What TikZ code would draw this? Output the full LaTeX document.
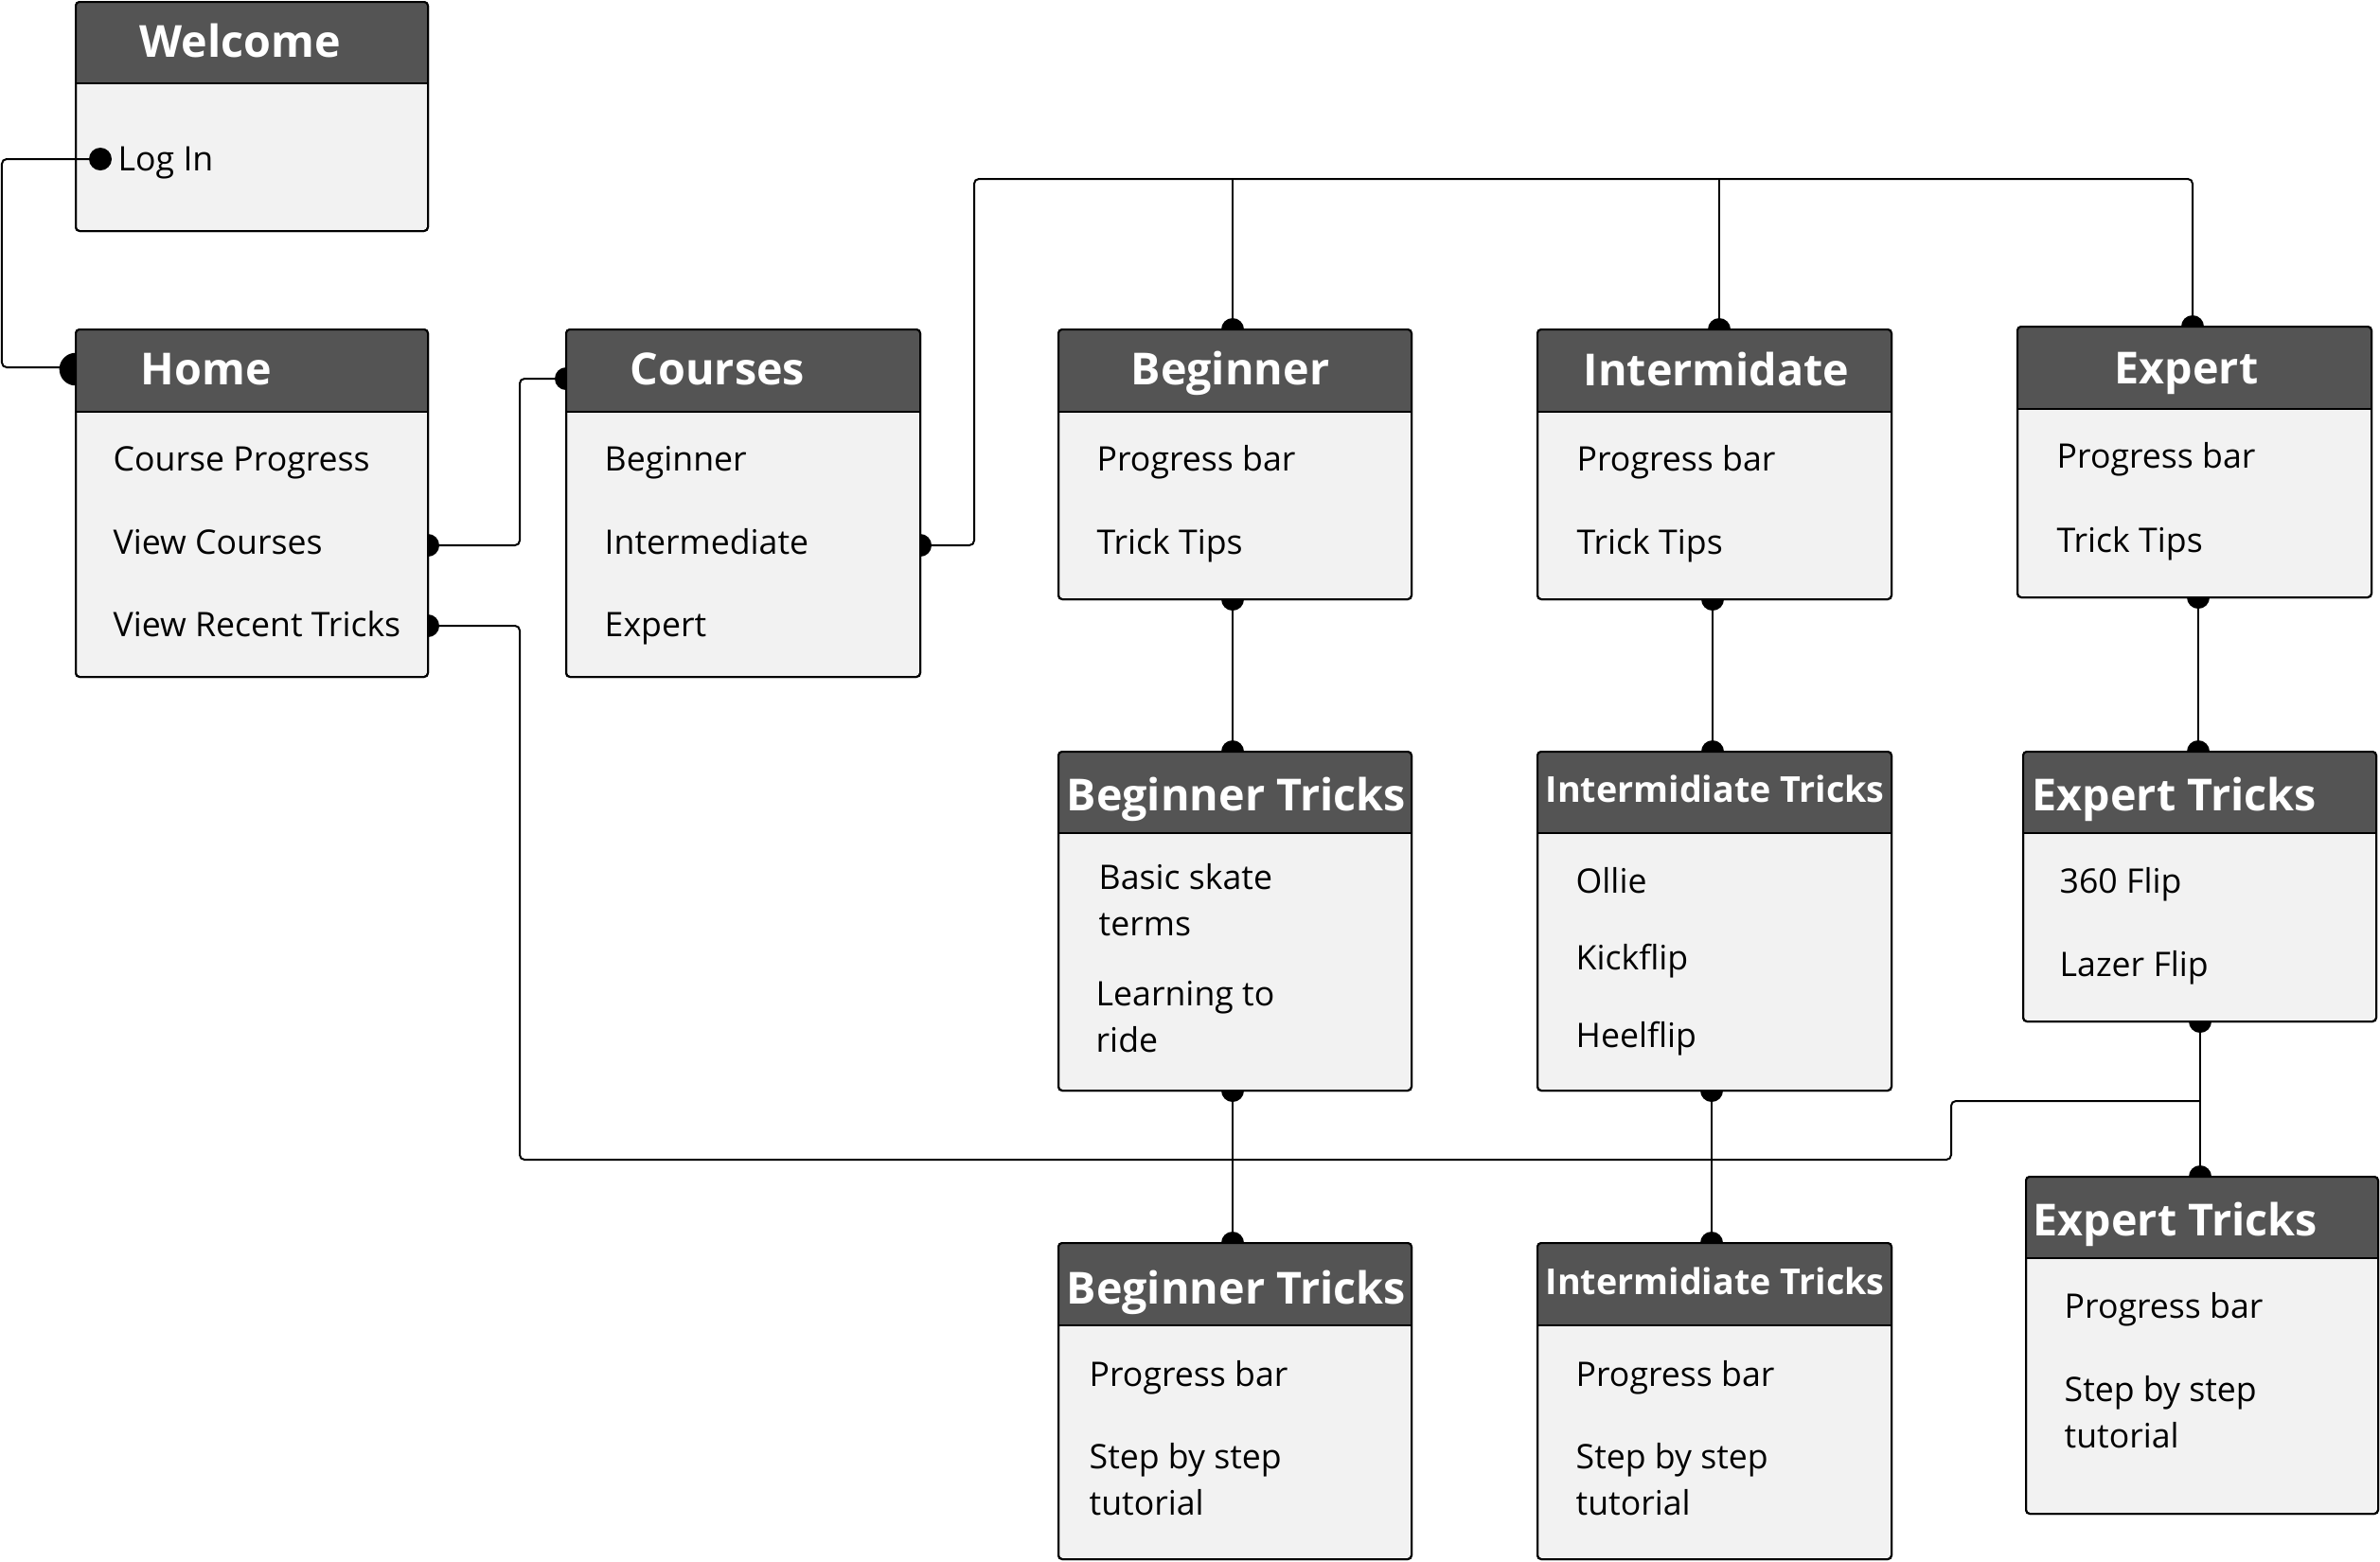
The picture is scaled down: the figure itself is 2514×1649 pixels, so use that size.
\documentclass[tikz,border=0pt]{standalone}
\usepackage{fontspec}
\setmainfont{Open Sans}
\definecolor{hdr}{HTML}{545454}
\definecolor{bodyc}{HTML}{F2F2F2}
\newcommand\mkbox[6]{%
  \node[bodybox, anchor=north west, minimum width={(#4-#2)*0.3pt}, minimum height={(#5-#3)*0.3pt}] (#1) at (#2,#3) {};
  \begin{scope}
    \clip[rounded corners=1.2pt] (#1.north west) rectangle (#1.south east);
    \fill[hdr] (#2,#3) rectangle (#4,#6);
  \end{scope}
  \draw[line width=0.6pt] (#2,#6) -- (#4,#6);
  \draw[line width=0.6pt, rounded corners=1.2pt] (#1.north west) rectangle (#1.south east);
}
\begin{document}
\begin{tikzpicture}[x=0.3pt,y=-0.3pt,
  bodybox/.style={draw=black, fill=bodyc, line width=0.6pt, rounded corners=1.2pt, inner sep=0pt, outer sep=0pt},
  ttl/.style={anchor=base west, inner sep=0pt, text=white, font=\fontsize{14}{17}\selectfont\bfseries},
  ttls/.style={anchor=base west, inner sep=0pt, text=white, font=\fontsize{11.3}{14}\selectfont\bfseries},
  itm/.style={anchor=base west, inner sep=0pt, font=\fontsize{10.7}{14.7}\selectfont, align=left},
  conn/.style={line width=0.6pt, rounded corners=1.5pt},
  thin/.style={line width=0.45pt},
  pin/.style={fill=black},
]
\useasboundingbox (0,0) rectangle (2514,1649);

% ---------- invisible placeholders to get box anchors first ----------
\begin{scope}[opacity=0]
\node[bodybox, anchor=north west, minimum width={372*0.3pt}, minimum height={367*0.3pt}] (home) at (80,348) {};
\node[bodybox, anchor=north west, minimum width={374*0.3pt}, minimum height={367*0.3pt}] (courses) at (598,348) {};
\node[bodybox, anchor=north west, minimum width={373*0.3pt}, minimum height={285*0.3pt}] (beginner) at (1118,348) {};
\node[bodybox, anchor=north west, minimum width={374*0.3pt}, minimum height={285*0.3pt}] (intermidate) at (1624,348) {};
\node[bodybox, anchor=north west, minimum width={374*0.3pt}, minimum height={286*0.3pt}] (expert) at (2131,345) {};
\node[bodybox, anchor=north west, minimum width={373*0.3pt}, minimum height={358*0.3pt}] (btricks) at (1118,794) {};
\node[bodybox, anchor=north west, minimum width={374*0.3pt}, minimum height={358*0.3pt}] (itricks) at (1624,794) {};
\node[bodybox, anchor=north west, minimum width={373*0.3pt}, minimum height={285*0.3pt}] (etricks) at (2137,794) {};
\node[bodybox, anchor=north west, minimum width={373*0.3pt}, minimum height={334*0.3pt}] (btut) at (1118,1313) {};
\node[bodybox, anchor=north west, minimum width={374*0.3pt}, minimum height={334*0.3pt}] (itut) at (1624,1313) {};
\node[bodybox, anchor=north west, minimum width={372*0.3pt}, minimum height={356*0.3pt}] (etut) at (2140,1243) {};
\end{scope}

% ---------- connectors and pins (drawn below the boxes) ----------
\coordinate (jn) at (2324,1163);
\coordinate (topL) at (1029,189);
\coordinate (colB) at (1302,189);
\coordinate (colI) at (1816,189);
\coordinate (colE) at (2316,189);
\coordinate (pinLogIn) at (106,168);

% Home -> Courses
\draw[conn] (home.east |- 0,576) -- (549,576) -- (549,400) -- (courses.west |- 0,400);
\fill[pin] (home.east |- 0,576) circle[radius=3.6pt];
\fill[pin] (courses.west |- 0,400) circle[radius=3.6pt];
% Home (View Recent Tricks) -> Expert Tricks line
\draw[conn] (home.east |- 0,661) -- (549,661) -- (549,1225) -- (2061,1225) -- (2061,1163) -- (jn);
\fill[pin] (home.east |- 0,661) circle[radius=3.6pt];
% Courses -> levels
\draw[conn] (courses.east |- 0,576) -- (1029,576) -- (topL) -- (colE) -- (expert.north -| colE);
\fill[pin] (courses.east |- 0,576) circle[radius=3.6pt];
\fill[pin] (expert.north -| colE) circle[radius=3.6pt];
\draw[thin] (colB) -- (beginner.north -| colB);
\fill[pin] (beginner.north -| colB) circle[radius=3.6pt];
\draw[thin] (colI) -- (intermidate.north -| colI);
\fill[pin] (intermidate.north -| colI) circle[radius=3.6pt];
% levels -> tricks
\draw[thin] (beginner.south -| 1302,0) -- (btricks.north -| 1302,0);
\fill[pin] (beginner.south -| 1302,0) circle[radius=3.6pt];
\fill[pin] (btricks.north -| 1302,0) circle[radius=3.6pt];
\draw[thin] (intermidate.south -| 1809,0) -- (itricks.north -| 1809,0);
\fill[pin] (intermidate.south -| 1809,0) circle[radius=3.6pt];
\fill[pin] (itricks.north -| 1809,0) circle[radius=3.6pt];
\draw[thin] (expert.south -| 2322,0) -- (etricks.north -| 2322,0);
\fill[pin] (expert.south -| 2322,0) circle[radius=3.6pt];
\fill[pin] (etricks.north -| 2322,0) circle[radius=3.6pt];
% tricks -> tutorials
\draw[thin] (btricks.south -| 1302,0) -- (btut.north -| 1302,0);
\fill[pin] (btricks.south -| 1302,0) circle[radius=3.6pt];
\fill[pin] (btut.north -| 1302,0) circle[radius=3.6pt];
\draw[thin] (itricks.south -| 1808,0) -- (itut.north -| 1808,0);
\fill[pin] (itricks.south -| 1808,0) circle[radius=3.6pt];
\fill[pin] (itut.north -| 1808,0) circle[radius=3.6pt];
\draw[thin] (etricks.south -| 2324,0) -- (etut.north -| 2324,0);
\fill[pin] (etricks.south -| 2324,0) circle[radius=3.6pt];
\fill[pin] (etut.north -| 2324,0) circle[radius=3.6pt];
% Home left pin (Log In connector end)
\fill[pin] (home.west |- 0,390) circle[radius=5.2pt];

% ---------- boxes ----------
\mkbox{welcome}{80}{2}{452}{244}{88}
\mkbox{home}{80}{348}{452}{715}{435}
\mkbox{courses}{598}{348}{972}{715}{435}
\mkbox{beginner}{1118}{348}{1491}{633}{435}
\mkbox{intermidate}{1624}{348}{1998}{633}{435}
\mkbox{expert}{2131}{345}{2505}{631}{432}
\mkbox{btricks}{1118}{794}{1491}{1152}{880}
\mkbox{itricks}{1624}{794}{1998}{1152}{880}
\mkbox{etricks}{2137}{794}{2510}{1079}{880}
\mkbox{btut}{1118}{1313}{1491}{1647}{1400}
\mkbox{itut}{1624}{1313}{1998}{1647}{1400}
\mkbox{etut}{2140}{1243}{2512}{1599}{1329}

% ---------- titles ----------
\node[ttl] (t1) at (147,60) {Welcome};
\node[ttl] (t2) at (148,406) {Home};
\node[ttl] (t3) at (665,406) {Courses};
\node[ttl] (t4) at (1194,406) {Beginner};
\node[ttl] (t5) at (1672,407) {Intermidate};
\node[ttl] (t6) at (2233,405) {Expert};
\node[ttl] (t7) at (1126,856) {Beginner Tricks};
\node[ttls] (t8) at (1632,847) {Intermidiate Tricks};
\node[ttl] (t9) at (2146,856) {Expert Tricks};
\node[ttl] (t10) at (1126,1377) {Beginner Tricks};
\node[ttls] (t11) at (1632,1367) {Intermidiate Tricks};
\node[ttl] (t12) at (2147,1305) {Expert Tricks};

% ---------- items (multi-line nodes are placed by their last baseline) ----------
\node[itm] (login) at (124,180) {Log In};
\node[itm] (h1) at (119,497) {Course Progress};
\node[itm] (h2) at (119,585) {View Courses};
\node[itm] (h3) at (119,672) {View Recent Tricks};
\node[itm] (c1) at (638,497) {Beginner};
\node[itm] (c2) at (638,585) {Intermediate};
\node[itm] (c3) at (638,672) {Expert};
\node[itm] (b1) at (1158,497) {Progress bar};
\node[itm] (b2) at (1158,585) {Trick Tips};
\node[itm] (i1) at (1665,497) {Progress bar};
\node[itm] (i2) at (1665,585) {Trick Tips};
\node[itm] (e1) at (2172,494) {Progress bar};
\node[itm] (e2) at (2172,583) {Trick Tips};
\node[itm] (bt1) at (1160,988) {Basic skate\\terms};
\node[itm] (bt2) at (1157,1111) {Learning to\\ride};
\node[itm] (it1) at (1664,943) {Ollie};
\node[itm] (it2) at (1664,1024) {Kickflip};
\node[itm] (it3) at (1664,1106) {Heelflip};
\node[itm] (et1) at (2175,943) {360 Flip};
\node[itm] (et2) at (2175,1031) {Lazer Flip};
\node[itm] (bu1) at (1150,1464) {Progress bar};
\node[itm] (bu2) at (1150,1600) {Step by step\\tutorial};
\node[itm] (iu1) at (1664,1464) {Progress bar};
\node[itm] (iu2) at (1664,1600) {Step by step\\tutorial};
\node[itm] (eu1) at (2180,1392) {Progress bar};
\node[itm] (eu2) at (2180,1529) {Step by step\\tutorial};

% ---------- Log In connector (on top of the Welcome box) ----------
\draw[conn] (pinLogIn) -- (2,168) -- (2,388) -- (home.west |- 0,388);
\fill[pin] (pinLogIn) circle[radius=3.6pt];
\end{tikzpicture}
\end{document}
